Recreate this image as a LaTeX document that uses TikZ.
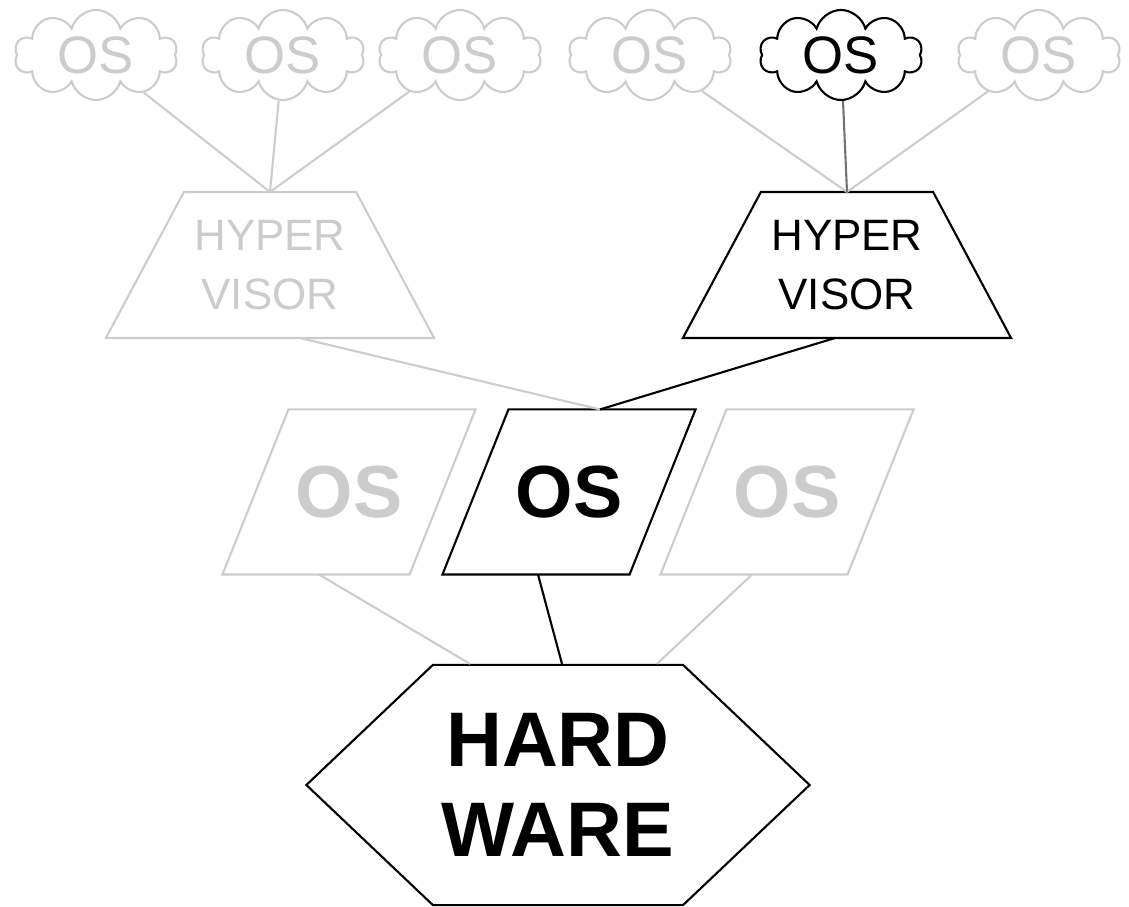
\documentclass[tikz,border=0pt]{standalone}
\usepackage{fontspec}
\setmainfont{Liberation Sans}
\usetikzlibrary{shapes.symbols, calc}
\definecolor{faded}{HTML}{CCCCCC}

\begin{document}
\begin{tikzpicture}[x=0.01cm, y=-0.01cm,
                line width=0.6pt,
                C/.style = {cloud, cloud puffs=10, cloud ignores aspect, draw,
                            minimum width=1.63cm, minimum height=0.9cm, inner sep=0pt,
                            font=\fontsize{15pt}{18pt}\selectfont},
                H/.style = {rectangle, align=center, outer sep=0pt,
                            minimum width=3.28cm, minimum height=1.46cm, inner sep=0pt,
                            font=\fontsize{12.5pt}{17pt}\selectfont},
                P/.style = {rectangle, outer sep=0pt,
                            minimum width=1.87cm, minimum height=1.65cm, inner sep=0pt,
                            font=\fontsize{21pt}{26pt}\selectfont\bfseries},
                X/.style = {signal, signal to=east and west, signal pointer angle=87,
                            draw, align=center,
                            minimum width=5.03cm, minimum height=2.4cm, inner sep=0pt,
                            font=\fontsize{22pt}{25.6pt}\selectfont\bfseries},
                G/.style = {draw=faded, text=faded}
                    ]
                \useasboundingbox (0,0) rectangle (1129,907);
                % guests on the hypervisors
                \node[C, G] (c1) at (96,55) {OS};
                \node[C, G] (c2) at (283,55) {OS};
                \node[C, G] (c3) at (460,55) {OS};
                \node[C, G] (c4) at (650,55) {OS};
                \node[C] (c5) at (841,55) {OS};
                \node[C, G] (c6) at (1039,55) {OS};
                % hypervisors
                \node[H, text=faded] (lhv) at (270,265) {HYPER\\VISOR};
                \node[H] (rhv) at (847,265) {HYPER\\VISOR};
                \foreach \n/\c in {lhv/faded, rhv/black}
                    \draw[\c] ($(\n.north west)+(78,0)$) -- ($(\n.north east)+(-78,0)$)
                        -- (\n.south east) -- (\n.south west) -- cycle;
                % host systems
                \node[P, text=faded] (los) at (349,492) {OS};
                \node[P] (mos) at (569,492) {OS};
                \node[P, text=faded] (ros) at (787,492) {OS};
                \foreach \n/\c in {los/faded, mos/black, ros/faded}
                    \draw[\c] ($(\n.south west)+(-33,0)$) -- ($(\n.south east)+(-33,0)$)
                        -- ($(\n.north east)+(33,0)$) -- ($(\n.north west)+(33,0)$) -- cycle;
                % machine
                \node[X] (hw) at (558,785) {HARD\\WARE};
                \draw[G] (c1) -- (lhv.north);
                \draw[G] (c2) -- (lhv.north);
                \draw[G] (c3) -- (lhv.north);
                \draw[G] (c4) -- (rhv.north);
                \draw[G] (c6) -- (rhv.north);
                \draw[black!55] (c5) -- (rhv.north);
                \draw[G] ($(lhv.south)+(30,0)$) -- ($(mos.north)+(31,0)$);
                \draw ($(rhv.south)+(-12,0)$) -- ($(mos.north)+(31,0)$);
                \draw[G] ($(los.south)+(-30,0)$) -- ($(hw.north)+(-88,0)$);
                \draw[G] ($(ros.south)+(-35,0)$) -- ($(hw.north)+(99,0)$);
                \draw ($(mos.south)+(-31,0)$) -- ($(hw.north)+(4,0)$);
            \end{tikzpicture}
\end{document}
